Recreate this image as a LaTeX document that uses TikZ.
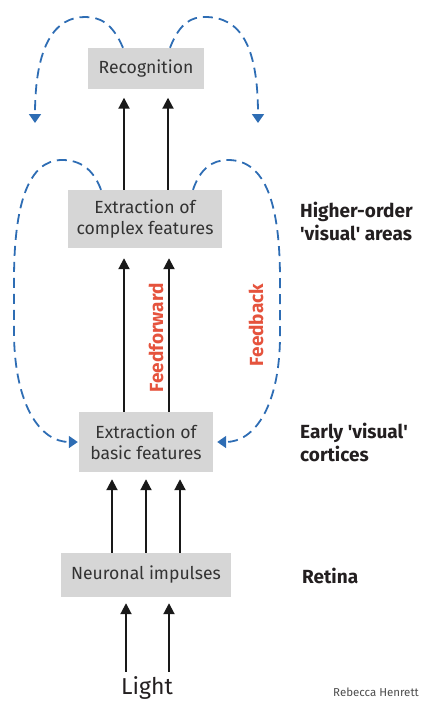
\documentclass[tikz,border=0pt]{standalone}
\usepackage{fontspec}
\setmainfont{Fira Sans}
\usetikzlibrary{arrows.meta}
\definecolor{boxgray}{HTML}{D6D6D6}
\definecolor{boxtext}{HTML}{333333}
\definecolor{fbblue}{HTML}{2E6DB4}
\definecolor{fwdred}{HTML}{E5533D}
\definecolor{labeltext}{HTML}{231F20}
\begin{document}
\begin{tikzpicture}[x=1pt,y=-1pt,
  box/.style={fill=boxgray, draw=none, text=boxtext, align=center, inner sep=0pt,
    font=\fontsize{17.6}{21}\selectfont},
  fwd/.style={line width=2pt, draw=black!90,
    -{Triangle[length=11pt,width=11pt]}},
  fb/.style={line width=1.8pt, draw=fbblue, dash pattern=on 10pt off 6pt,
    -{Triangle[length=9pt,width=12pt,fill=fbblue]}},
  area/.style={text=labeltext, align=left, anchor=west, inner sep=0pt,
    font=\bfseries\fontsize{19}{23}\selectfont},
  flow/.style={text=fwdred, rotate=90, inner sep=0pt,
    font=\bfseries\fontsize{19}{22}\selectfont}]
\path[use as bounding box] (0,0) rectangle (421,701);

% processing stages
\node[box, minimum width=116pt, minimum height=41pt] (recog) at (146,68.5) {Recognition};
\node[box, minimum width=154pt, minimum height=58pt] (complex) at (145,219) {Extraction of\\complex features};
\node[box, minimum width=134pt, minimum height=60pt] (basic) at (146,442) {Extraction of\\basic features};
\node[box, minimum width=170pt, minimum height=44pt] (neuron) at (146,575) {Neuronal impulses};
\node[anchor=base, inner sep=0pt, text=labeltext, font=\fontsize{23}{26}\selectfont] (light) at (147,694) {Light};

% feedforward arrows
\foreach \dx in {-21,23}
  \draw[fwd, shorten >=8.5pt] ([xshift=\dx pt]complex.north) -- ([xshift=\dx pt]complex.north |- recog.south);
\foreach \dx in {-22,23}
  \draw[fwd, shorten >=10pt] ([xshift=\dx pt]basic.north) -- ([xshift=\dx pt]basic.north |- complex.south);
\foreach \dx in {-34,0,34}
  \draw[fwd, shorten >=7pt] ([xshift=\dx pt]neuron.north) -- ([xshift=\dx pt]neuron.north |- basic.south);
\foreach \dx in {-21,22}
  \draw[fwd, shorten <=4pt, shorten >=6pt] ([xshift=\dx pt]light.north) -- ([xshift=\dx pt]light.north |- neuron.south);

% feedback loops
\coordinate (fbL) at (35,123);
\coordinate (fbR) at (258,123);
\draw[fb] ([xshift=-23pt]recog.north) .. controls (112,22) and (99,17) .. (85,17)
  .. controls (55,17) and (35,45) .. (fbL);
\draw[fb] ([xshift=24pt]recog.north) .. controls (180,22) and (192,17) .. (205,17)
  .. controls (240,17) and (258,45) .. (fbR);
\draw[fb] ([xshift=-44pt]complex.north) .. controls (93,168) and (79,160) .. (62,160)
  .. controls (28,160) and (14,205) .. (14,280) -- (14,335)
  .. controls (15,405) and (40,442) .. ([xshift=-1pt]basic.west);
\draw[fb] ([xshift=48pt]complex.north) .. controls (200,169) and (212,160) .. (228,160)
  .. controls (266,160) and (280,205) .. (280,280) -- (280,335)
  .. controls (280,405) and (255,442) .. ([xshift=4pt]basic.east);

% flow labels
\node[flow] (ff) at (156,338) {Feedforward};
\node[flow] (fbk) at (256,325) {Feedback};

% anatomical levels
\node[area] (higher) at (300,221) {Higher-order\\\textquotesingle visual\textquotesingle\ areas};
\node[area] (early) at (300,442) {Early \textquotesingle visual\textquotesingle\\cortices};
\node[area] (retina) at (302,576) {Retina};

\node[anchor=base west, inner sep=0pt, text=black!70, font=\fontsize{11.5}{13}\selectfont] (credit) at (333,696) {Rebecca Henrett};
\end{tikzpicture}
\end{document}
